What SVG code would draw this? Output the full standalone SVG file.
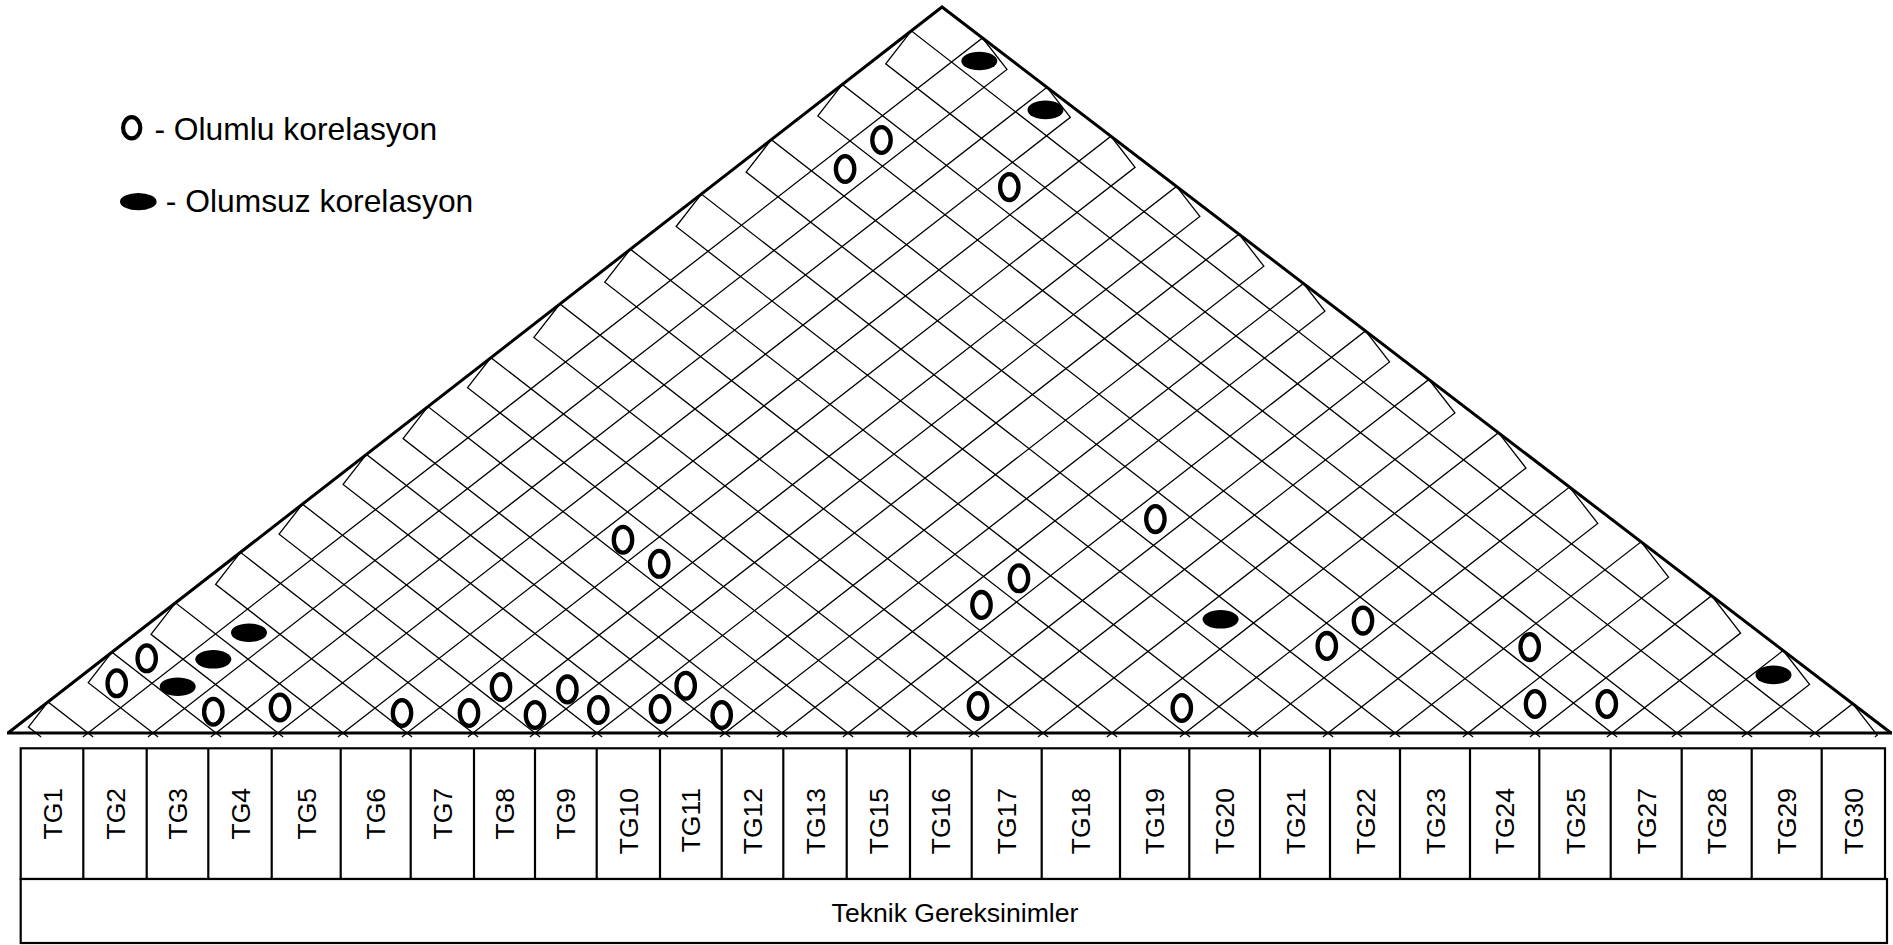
<svg xmlns="http://www.w3.org/2000/svg" width="1893" height="945" viewBox="0 0 1893 945">
<style>
.grid{fill:none;stroke:#000;stroke-width:1.3;stroke-linejoin:miter}
.edge{fill:none;stroke:#000;stroke-width:3}
.box{fill:#fff;stroke:#000;stroke-width:2.2}
.pos{fill:none;stroke:#000;stroke-width:4.3}
.neg{fill:#000;stroke:none}
.lbl{font-family:"Liberation Sans",Arial,sans-serif;font-size:26.5px;fill:#000;text-anchor:end}
.leg{font-family:"Liberation Sans",Arial,sans-serif;font-size:31.8px;fill:#000}
.title{font-family:"Liberation Sans",Arial,sans-serif;font-size:26.6px;fill:#000;text-anchor:middle}
</style>
<rect width="1893" height="945" fill="#fff"/>
<g id="legend">
<ellipse cx="131.7" cy="127.8" rx="8.6" ry="10.6" fill="none" stroke="#000" stroke-width="4.2"/>
<text class="leg" x="154.4" y="140">- Olumlu korelasyon</text>
<ellipse cx="138.3" cy="201.7" rx="18.3" ry="8.6" class="neg"/>
<text class="leg" x="165.8" y="212">- Olumsuz korelasyon</text>
</g>
<g id="connectors">
<g id="roof-left-strips">
<polyline class="grid" points="41.15,737 28.41,727.10 47.99,701.91 93.15,737"/>
<polyline class="grid" points="158.15,737 88.26,682.70 111.98,652.18 221.15,737"/>
<polyline class="grid" points="283.15,737 151.00,634.32 175.47,602.83 348.15,737"/>
<polyline class="grid" points="412.15,737 215.60,584.29 240.45,552.31 478.15,737"/>
<polyline class="grid" points="540.15,737 279.10,534.17 302.44,504.13 602.15,737"/>
<polyline class="grid" points="668.15,737 343.09,484.43 366.43,454.39 730.15,737"/>
<polyline class="grid" points="787.15,737 403.07,438.58 427.92,406.60 853.15,737"/>
<polyline class="grid" points="917.15,737 467.56,387.67 490.90,357.63 979.15,737"/>
<polyline class="grid" points="1048.15,737 533.91,337.44 559.89,304.01 1117.15,737"/>
<polyline class="grid" points="1190.15,737 604.77,282.17 630.37,249.22 1258.15,737"/>
<polyline class="grid" points="1333.15,737 676.14,226.50 701.36,194.04 1400.15,737"/>
<polyline class="grid" points="1473.15,737 746.13,172.10 771.35,139.64 1540.15,737"/>
<polyline class="grid" points="1617.15,737 817.86,115.95 842.33,84.46 1682.15,737"/>
<polyline class="grid" points="1752.15,737 885.72,63.79 911.32,30.84 1820.15,737"/>
</g>
<g id="roof-right-strips">
<polyline class="grid" points="82.85,737 982.49,37.98 1006.96,69.47 147.85,737"/>
<polyline class="grid" points="210.85,737 1046.99,87.32 1070.33,117.36 272.85,737"/>
<polyline class="grid" points="337.85,737 1110.98,136.28 1135.07,167.29 401.85,737"/>
<polyline class="grid" points="467.85,737 1176.49,186.39 1199.83,216.43 529.85,737"/>
<polyline class="grid" points="591.85,737 1238.97,234.19 1263.82,266.17 657.85,737"/>
<polyline class="grid" points="719.85,737 1303.47,283.53 1324.93,311.15 776.85,737"/>
<polyline class="grid" points="842.85,737 1365.45,330.94 1389.54,361.95 906.85,737"/>
<polyline class="grid" points="968.85,737 1428.94,379.51 1454.92,412.94 1037.85,737"/>
<polyline class="grid" points="1106.85,737 1498.48,432.71 1525.96,468.08 1179.85,737"/>
<polyline class="grid" points="1247.85,737 1569.52,487.06 1597.76,523.40 1322.85,737"/>
<polyline class="grid" points="1389.85,737 1641.08,541.80 1668.56,577.17 1462.85,737"/>
<polyline class="grid" points="1529.85,737 1711.62,595.77 1740.61,633.08 1606.85,737"/>
<polyline class="grid" points="1671.85,737 1783.17,650.51 1809.53,684.43 1741.85,737"/>
<polyline class="grid" points="1809.85,737 1852.71,703.70 1877.18,735.19 1874.85,737"/>
</g>
<polyline class="edge" points="8,733 942,7 1891,733"/>
<line class="edge" x1="7" y1="733" x2="1892" y2="733"/>
</g>
<g id="correlations">
<g id="positive">
<ellipse class="pos" cx="881.5" cy="140" rx="9.2" ry="12.9"/>
<ellipse class="pos" cx="845.1" cy="169" rx="9.2" ry="12.9"/>
<ellipse class="pos" cx="1009.3" cy="187.1" rx="9.2" ry="12.9"/>
<ellipse class="pos" cx="623" cy="539.7" rx="9.2" ry="12.9"/>
<ellipse class="pos" cx="659.2" cy="563.8" rx="9.2" ry="12.9"/>
<ellipse class="pos" cx="1155.4" cy="519.1" rx="9.2" ry="12.9"/>
<ellipse class="pos" cx="1019" cy="578.3" rx="9.2" ry="12.9"/>
<ellipse class="pos" cx="981.5" cy="604.9" rx="9.2" ry="12.9"/>
<ellipse class="pos" cx="1363" cy="620.6" rx="9.2" ry="12.9"/>
<ellipse class="pos" cx="1326.8" cy="645.9" rx="9.2" ry="12.9"/>
<ellipse class="pos" cx="1529.7" cy="647.1" rx="9.2" ry="12.9"/>
<ellipse class="pos" cx="146.7" cy="658.3" rx="9.2" ry="12.9"/>
<ellipse class="pos" cx="116.7" cy="683.3" rx="9.2" ry="12.9"/>
<ellipse class="pos" cx="213.3" cy="711.7" rx="9.2" ry="12.9"/>
<ellipse class="pos" cx="280" cy="707.5" rx="9.2" ry="12.9"/>
<ellipse class="pos" cx="402" cy="713" rx="9.2" ry="12.9"/>
<ellipse class="pos" cx="469" cy="713" rx="9.2" ry="12.9"/>
<ellipse class="pos" cx="501" cy="687" rx="9.2" ry="12.9"/>
<ellipse class="pos" cx="535" cy="715" rx="9.2" ry="12.9"/>
<ellipse class="pos" cx="567.4" cy="689.4" rx="9.2" ry="12.9"/>
<ellipse class="pos" cx="598.3" cy="710" rx="9.2" ry="12.9"/>
<ellipse class="pos" cx="660" cy="709" rx="9.2" ry="12.9"/>
<ellipse class="pos" cx="685.7" cy="685.7" rx="9.2" ry="12.9"/>
<ellipse class="pos" cx="721.7" cy="715" rx="9.2" ry="12.9"/>
<ellipse class="pos" cx="978" cy="706" rx="9.2" ry="12.9"/>
<ellipse class="pos" cx="1181.8" cy="708" rx="9.2" ry="12.9"/>
<ellipse class="pos" cx="1535" cy="704" rx="9.2" ry="12.9"/>
<ellipse class="pos" cx="1606.8" cy="704" rx="9.2" ry="12.9"/>
</g>
<g id="negative">
<ellipse class="neg" cx="979.3" cy="61" rx="18" ry="9.3"/>
<ellipse class="neg" cx="1045.5" cy="109.9" rx="18" ry="9.3"/>
<ellipse class="neg" cx="249" cy="632.7" rx="18" ry="9.3"/>
<ellipse class="neg" cx="213.3" cy="659.3" rx="18" ry="9.3"/>
<ellipse class="neg" cx="177.7" cy="686.7" rx="18" ry="9.3"/>
<ellipse class="neg" cx="1220.6" cy="619.3" rx="18" ry="9.3"/>
<ellipse class="neg" cx="1773.5" cy="674.9" rx="18" ry="9.3"/>
</g>
</g>
<g id="columns">
<rect class="box" x="20.7" y="748.3" width="1864.3" height="130.7"/>
<g id="TG1"><text class="lbl" transform="translate(61.5,788) rotate(-90)">TG1</text></g>
<g id="TG2"><line class="box" x1="83.3" y1="748.3" x2="83.3" y2="879"/><text class="lbl" transform="translate(124.5,788) rotate(-90)">TG2</text></g>
<g id="TG3"><line class="box" x1="146.7" y1="748.3" x2="146.7" y2="879"/><text class="lbl" transform="translate(187,788) rotate(-90)">TG3</text></g>
<g id="TG4"><line class="box" x1="208.3" y1="748.3" x2="208.3" y2="879"/><text class="lbl" transform="translate(249.5,788) rotate(-90)">TG4</text></g>
<g id="TG5"><line class="box" x1="271.7" y1="748.3" x2="271.7" y2="879"/><text class="lbl" transform="translate(315.7,788) rotate(-90)">TG5</text></g>
<g id="TG6"><line class="box" x1="340.7" y1="748.3" x2="340.7" y2="879"/><text class="lbl" transform="translate(385.2,788) rotate(-90)">TG6</text></g>
<g id="TG7"><line class="box" x1="410.7" y1="748.3" x2="410.7" y2="879"/><text class="lbl" transform="translate(451.9,788) rotate(-90)">TG7</text></g>
<g id="TG8"><line class="box" x1="474" y1="748.3" x2="474" y2="879"/><text class="lbl" transform="translate(514,788) rotate(-90)">TG8</text></g>
<g id="TG9"><line class="box" x1="535" y1="748.3" x2="535" y2="879"/><text class="lbl" transform="translate(575.4,788) rotate(-90)">TG9</text></g>
<g id="TG10"><line class="box" x1="596.7" y1="748.3" x2="596.7" y2="879"/><text class="lbl" transform="translate(637.9,788) rotate(-90)">TG10</text></g>
<g id="TG11"><line class="box" x1="660" y1="748.3" x2="660" y2="879"/><text class="lbl" transform="translate(700.4,788) rotate(-90)">TG11</text></g>
<g id="TG12"><line class="box" x1="721.7" y1="748.3" x2="721.7" y2="879"/><text class="lbl" transform="translate(762,788) rotate(-90)">TG12</text></g>
<g id="TG13"><line class="box" x1="783.3" y1="748.3" x2="783.3" y2="879"/><text class="lbl" transform="translate(824.5,788) rotate(-90)">TG13</text></g>
<g id="TG15"><line class="box" x1="846.7" y1="748.3" x2="846.7" y2="879"/><text class="lbl" transform="translate(887.9,788) rotate(-90)">TG15</text></g>
<g id="TG16"><line class="box" x1="910" y1="748.3" x2="910" y2="879"/><text class="lbl" transform="translate(950.4,788) rotate(-90)">TG16</text></g>
<g id="TG17"><line class="box" x1="971.7" y1="748.3" x2="971.7" y2="879"/><text class="lbl" transform="translate(1016.2,788) rotate(-90)">TG17</text></g>
<g id="TG18"><line class="box" x1="1041.7" y1="748.3" x2="1041.7" y2="879"/><text class="lbl" transform="translate(1090.4,788) rotate(-90)">TG18</text></g>
<g id="TG19"><line class="box" x1="1120" y1="748.3" x2="1120" y2="879"/><text class="lbl" transform="translate(1164.2,788) rotate(-90)">TG19</text></g>
<g id="TG20"><line class="box" x1="1189.3" y1="748.3" x2="1189.3" y2="879"/><text class="lbl" transform="translate(1234.2,788) rotate(-90)">TG20</text></g>
<g id="TG21"><line class="box" x1="1260" y1="748.3" x2="1260" y2="879"/><text class="lbl" transform="translate(1304.5,788) rotate(-90)">TG21</text></g>
<g id="TG22"><line class="box" x1="1330" y1="748.3" x2="1330" y2="879"/><text class="lbl" transform="translate(1374.5,788) rotate(-90)">TG22</text></g>
<g id="TG23"><line class="box" x1="1400" y1="748.3" x2="1400" y2="879"/><text class="lbl" transform="translate(1444.5,788) rotate(-90)">TG23</text></g>
<g id="TG24"><line class="box" x1="1470" y1="748.3" x2="1470" y2="879"/><text class="lbl" transform="translate(1514.2,788) rotate(-90)">TG24</text></g>
<g id="TG25"><line class="box" x1="1539.3" y1="748.3" x2="1539.3" y2="879"/><text class="lbl" transform="translate(1584.5,788) rotate(-90)">TG25</text></g>
<g id="TG27"><line class="box" x1="1610.7" y1="748.3" x2="1610.7" y2="879"/><text class="lbl" transform="translate(1655.7,788) rotate(-90)">TG27</text></g>
<g id="TG28"><line class="box" x1="1681.7" y1="748.3" x2="1681.7" y2="879"/><text class="lbl" transform="translate(1726.2,788) rotate(-90)">TG28</text></g>
<g id="TG29"><line class="box" x1="1751.7" y1="748.3" x2="1751.7" y2="879"/><text class="lbl" transform="translate(1796.2,788) rotate(-90)">TG29</text></g>
<g id="TG30"><line class="box" x1="1821.7" y1="748.3" x2="1821.7" y2="879"/><text class="lbl" transform="translate(1862.9,788) rotate(-90)">TG30</text></g>
</g>
<g id="teknik-gereksinimler">
<rect class="box" x="20.7" y="879" width="1866.3" height="64"/>
<text class="title" x="955" y="922">Teknik Gereksinimler</text>
</g>
</svg>
